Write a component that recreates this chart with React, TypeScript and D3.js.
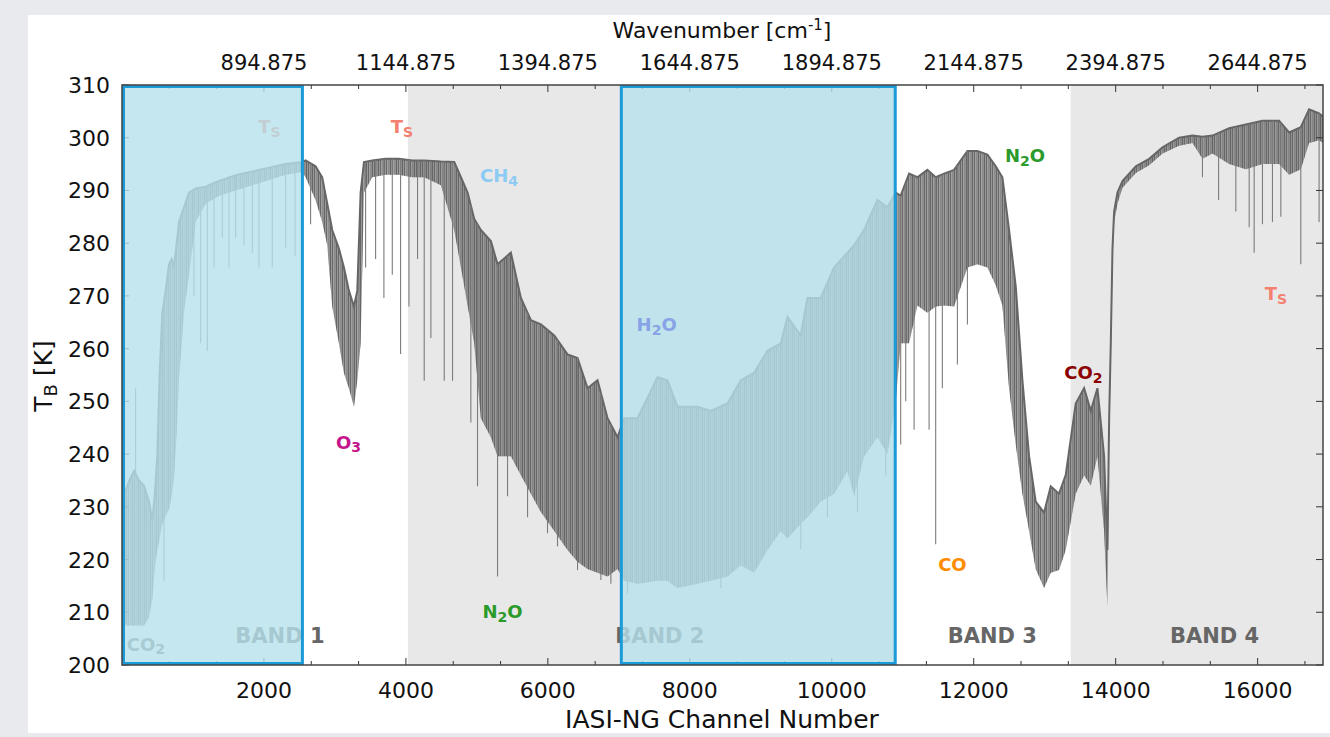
import React from "react";
import * as d3 from "d3";

// ---------- data ----------
const channels = [0, 52, 120, 170, 240, 310, 380, 427, 460, 497, 530, 568, 615, 662, 700, 732, 770, 803, 873, 944, 1038, 1178, 1366, 1601, 1836, 2070, 2305, 2540, 2587, 2727, 2821, 2892, 2962, 3056, 3127, 3197, 3268, 3315, 3362, 3409, 3526, 3714, 3902, 4090, 4258, 4493, 4681, 4775, 4869, 4963, 5056, 5197, 5291, 5479, 5620, 5761, 5902, 6090, 6277, 6418, 6559, 6700, 6841, 6982, 7075, 7263, 7545, 7685, 7826, 8108, 8296, 8530, 8718, 8906, 9094, 9282, 9376, 9563, 9657, 9845, 10033, 10221, 10315, 10455, 10643, 10784, 10901, 10971, 11089, 11206, 11347, 11464, 11582, 11723, 11911, 12052, 12193, 12310, 12404, 12498, 12592, 12686, 12780, 12873, 12991, 13085, 13202, 13296, 13437, 13555, 13649, 13743, 13837, 13884, 13908, 13931, 13955, 13978, 14025, 14096, 14284, 14472, 14660, 14894, 15082, 15223, 15364, 15599, 15834, 16068, 16303, 16444, 16608, 16725, 16866, 16921];

const tbUpper = [232, 233.2, 235.5, 236.8, 235, 234, 231, 227.5, 232, 239.6, 255, 266.8, 271, 276, 277, 275.4, 280, 284, 286.8, 289.6, 290.4, 290.7, 291.8, 292.9, 293.6, 294.3, 295, 295.4, 295.7, 294.6, 292.5, 287.5, 282.5, 279, 275.4, 271, 268, 271, 289.6, 295.4, 295.7, 296, 296, 295.7, 295.7, 295.5, 295.4, 292.5, 289.6, 284.6, 282.5, 280.4, 276, 278.2, 269.6, 265.4, 264.6, 262.5, 258.9, 258.2, 252.5, 254, 246.8, 243.2, 246.8, 246.8, 254.6, 254, 249, 249, 248.2, 249.6, 254, 255.4, 259.6, 261, 266, 262.5, 269.6, 269.6, 275.4, 278.2, 279.6, 282.5, 288.2, 286.8, 289.6, 289, 293.2, 292.5, 293.9, 292.5, 293.2, 293.9, 297.5, 297.5, 296.8, 294.6, 292.5, 282.5, 271.8, 254, 239.6, 231, 228.9, 233.9, 232.5, 236, 249.6, 252.5, 248.2, 252.5, 239.6, 221.8, 246.8, 261, 279, 286, 289.6, 291.8, 294.6, 296, 298.2, 300, 300.4, 300.2, 300.4, 301.8, 302.5, 303.2, 303.2, 301, 302, 305.4, 304.6, 304];

const tbLower = [210, 207.5, 207.5, 207.5, 207.5, 207.5, 209, 212.5, 218, 221.8, 224, 226.8, 228.2, 229.6, 232, 235.4, 244, 254, 266.8, 274, 284, 287.5, 289, 290, 291, 292, 293, 293.5, 292.5, 288.2, 284, 279.6, 268, 261, 255.4, 252.5, 249, 254, 261, 289.6, 292.5, 293, 293, 292.5, 292.5, 291, 282.5, 275.4, 268.2, 261, 246.8, 243.2, 239.6, 239.6, 236, 232.5, 229, 225.4, 221.8, 219.6, 218.2, 217.5, 216.8, 218.2, 216, 215.4, 216, 216, 214.6, 215.4, 216, 216.8, 218.9, 217.5, 221.8, 225.4, 224, 226.8, 228, 231, 232.5, 236.8, 232, 239.6, 243.2, 240, 250, 261, 261, 268.2, 266.8, 268, 268.2, 268, 275.4, 276, 275.4, 272, 268.2, 252.5, 241.8, 232.5, 225.4, 218.2, 214.6, 217.5, 218, 221.8, 232.5, 236, 234, 239.6, 225.4, 211, 243, 258, 276, 284, 287.5, 290.5, 293.3, 294.8, 297, 298.5, 299, 296, 297, 295, 294, 295, 295, 293, 294, 299, 299.5, 299];

const lineChannels = [192, 592, 1014, 1108, 1202, 1296, 1413, 1507, 1601, 1718, 1836, 1930, 2117, 2305, 2437, 2657, 3432, 3573, 3690, 3808, 3925, 4043, 4164, 4258, 4352, 4540, 4657, 4915, 5009, 5291, 5432, 5714, 5995, 6136, 6418, 6747, 6888, 7122, 8437, 8859, 9563, 9939, 10362, 10760, 10971, 11042, 11160, 11371, 11464, 11558, 11770, 11911, 15223, 15450, 15693, 15881, 15951, 16068, 16209, 16327, 16608, 16866];
const lineMinTb = [252.5, 216, 270, 261, 259.6, 275.4, 281, 275.4, 281, 279.6, 278.2, 275.4, 275.4, 279, 277.5, 283.6, 275.4, 277, 269.6, 274, 259, 268, 277, 253.9, 262, 253.9, 253.9, 246, 233.9, 216.8, 232, 228, 225, 222.5, 218, 216.1, 215.4, 213.5, 214.6, 218, 222, 228, 228.9, 236, 241.8, 250, 244.6, 244.6, 222.9, 252.5, 257, 264.6, 292.5, 288.2, 286, 283, 278.2, 283.6, 284, 285, 276, 284];

const xTickValues = [2000, 4000, 6000, 8000, 10000, 12000, 14000, 16000];
const yTickValues = [200, 210, 220, 230, 240, 250, 260, 270, 280, 290, 300, 310];
const shadedBands = [[4028, 10915], [13366, 16921]];
const highlightBoxes = [[0, 2563], [7014, 10915]];
const bandNames = ["BAND 1", "BAND 2", "BAND 3", "BAND 4"];
const bandNameChannels = [2225, 7577, 12262, 15394];

type Part = [string, boolean];
const annotations: { parts: Part[]; ch: number; tb: number; color: string; top?: boolean }[] = [
  { parts: [["T", false], ["S", true]], ch: 2078, tb: 300.9, color: "#f4806f" },
  { parts: [["T", false], ["S", true]], ch: 3945, tb: 300.9, color: "#f4806f" },
  { parts: [["CH", false], ["4", true]], ch: 5311, tb: 291.6, color: "#8ccbf3" },
  { parts: [["O", false], ["3", true]], ch: 3191, tb: 241, color: "#c4158a" },
  { parts: [["N", false], ["2", true], ["O", false]], ch: 5361, tb: 208.9, color: "#2a9a2a" },
  { parts: [["H", false], ["2", true], ["O", false]], ch: 7533, tb: 263.3, color: "#87a3e6", top: true },
  { parts: [["CO", false]], ch: 11700, tb: 217.8, color: "#ff8c00" },
  { parts: [["N", false], ["2", true], ["O", false]], ch: 12722, tb: 295.4, color: "#2a9a2a" },
  { parts: [["CO", false], ["2", true]], ch: 13546, tb: 254.2, color: "#8b0000" },
  { parts: [["T", false], ["S", true]], ch: 16258, tb: 269.2, color: "#f4806f" },
  { parts: [["CO", false], ["2", true]], ch: 338, tb: 202.7, color: "#707070" },
];

// ---------- layout ----------
const W = 1330;
const H = 737;
const FONT = "'DejaVu Sans', Verdana, sans-serif";
const L = 122, R = 1323, T = 85, B = 665;

const x = d3.scaleLinear().domain([0, 16921]).range([L, R]);
const y = d3.scaleLinear().domain([200, 310]).range([B, T]);
const upperAt = d3.scaleLinear().domain(channels).range(tbUpper).clamp(true);

const wn = (c: number) => d3.format(".3f")(645 + (c - 1) * 0.125);

function Label({ parts, cx, by, color, size }: { parts: Part[]; cx: number; by: number; color: string; size: number }) {
  let prevSub = false;
  return (
    <text x={cx} y={by} textAnchor="middle" fill={color} fontFamily={FONT} fontWeight="bold" fontSize={size}>
      {parts.map(([s, sub], i) => {
        let dy = 0;
        if (sub && !prevSub) dy = size * 0.2;
        if (!sub && prevSub) dy = -size * 0.2;
        prevSub = sub;
        return (
          <tspan key={i} dy={dy} fontSize={sub ? size * 0.78 : size}>
            {s}
          </tspan>
        );
      })}
    </text>
  );
}

export default function App() {
  const pts = channels.map((c, i) => ({ c, u: tbUpper[i], l: tbLower[i] }));
  const area = d3
    .area<{ c: number; u: number; l: number }>()
    .x((d) => x(d.c))
    .y0((d) => y(d.l))
    .y1((d) => y(d.u));
  const upperLine = d3
    .line<{ c: number; u: number; l: number }>()
    .x((d) => x(d.c))
    .y((d) => y(d.u));

  const minor = d3.range(0, 16921, 2000 / 3).filter((v) => Math.abs(v / 2000 - Math.round(v / 2000)) > 0.01);

  const labelsUnder = annotations.filter((a) => !a.top);
  const labelsOver = annotations.filter((a) => a.top);

  return (
    <svg width={W} height={H} style={{ position: "absolute", left: 0, top: 0 }} fontFamily={FONT}>
      <defs>
        <clipPath id="plotClip">
          <rect x={L} y={T} width={R - L} height={B - T} />
        </clipPath>
        <pattern id="comb" patternUnits="userSpaceOnUse" x={0} y={0} width={6} height={20}>
          <rect x={0} y={0} width={1.4} height={20} fill="#666" />
          <rect x={1.9} y={0} width={1.2} height={20} fill="#686868" />
          <rect x={3.7} y={0} width={0.9} height={20} fill="#666" />
          <rect x={5.1} y={0} width={0.6} height={20} fill="#6c6c6c" />
        </pattern>
      </defs>
      <rect x={0} y={0} width={W} height={H} fill="#e9eaed" />
      <rect x={28} y={15} width={W - 28} height={733 - 15} fill="#ffffff" />

      {/* shaded band backgrounds */}
      {shadedBands.map(([a, b], i) => (
        <rect key={i} x={x(a)} y={T} width={x(b) - x(a)} height={B - T} fill="#e8e8e8" />
      ))}

      {/* spectrum */}
      <g clipPath="url(#plotClip)">
        <path d={area(pts) || ""} fill="#6a6a6a" fillOpacity={0.4} />
        <path d={area(pts) || ""} fill="url(#comb)" />
        <path d={upperLine(pts) || ""} fill="none" stroke="#666" strokeWidth={2} />
        {lineChannels.map((c, i) => (
          <line
            key={i}
            x1={x(c)}
            x2={x(c)}
            y1={y(upperAt(c))}
            y2={y(lineMinTb[i])}
            stroke="#7c7c7c"
            strokeWidth={1.1}
          />
        ))}
      </g>

      {/* ticks */}
      <g stroke="#333" strokeWidth={1}>
        {xTickValues.map((v) => (
          <g key={v}>
            <line x1={x(v)} x2={x(v)} y1={B} y2={B - 7} />
            <line x1={x(v)} x2={x(v)} y1={T} y2={T + 7} />
          </g>
        ))}
        {minor.map((v) => (
          <g key={v}>
            <line x1={x(v)} x2={x(v)} y1={B} y2={B - 4} />
            <line x1={x(v)} x2={x(v)} y1={T} y2={T + 4} />
          </g>
        ))}
        {yTickValues.map((v) => (
          <g key={v}>
            <line x1={L} x2={L + 7} y1={y(v)} y2={y(v)} />
            <line x1={R} x2={R - 7} y1={y(v)} y2={y(v)} />
          </g>
        ))}
      </g>

      {/* band names */}
      {bandNames.map((n, i) => (
        <text key={n} x={x(bandNameChannels[i])} y={y(204.2)} textAnchor="middle" fill="#666" fontWeight="bold" fontSize={21}>
          {n}
        </text>
      ))}

      {labelsUnder.map((a, i) => (
        <Label key={i} parts={a.parts} cx={x(a.ch)} by={y(a.tb)} color={a.color} size={18} />
      ))}

      {/* highlight boxes */}
      {highlightBoxes.map(([a, b], i) => (
        <rect
          key={i}
          x={x(a) + 1.5}
          y={T + 1.5}
          width={x(b) - x(a) - 3}
          height={B - T - 3}
          fill="rgb(183,225,236)"
          fillOpacity={0.8}
          stroke="#1a9bd7"
          strokeWidth={3}
        />
      ))}

      {labelsOver.map((a, i) => (
        <Label key={i} parts={a.parts} cx={x(a.ch)} by={y(a.tb)} color={a.color} size={18} />
      ))}

      {/* frame */}
      <rect x={L} y={T} width={R - L} height={B - T} fill="none" stroke="#444" strokeWidth={1.5} />

      {/* tick labels */}
      {xTickValues.map((v) => (
        <text key={v} x={x(v)} y={698} textAnchor="middle" fontSize={22} fill="#111">
          {v}
        </text>
      ))}
      {xTickValues.map((v) => (
        <text key={v} x={x(v)} y={70} textAnchor="middle" fontSize={21} fill="#111">
          {wn(v)}
        </text>
      ))}
      {yTickValues.map((v) => (
        <text key={v} x={110} y={y(v) + 8} textAnchor="end" fontSize={22} fill="#111">
          {v}
        </text>
      ))}

      {/* titles */}
      <text x={722} y={38} textAnchor="middle" fontSize={22} fill="#111">
        Wavenumber [cm
        <tspan dy={-8} fontSize={15}>
          -1
        </tspan>
        <tspan dy={8}>]</tspan>
      </text>
      <text x={722} y={728} textAnchor="middle" fontSize={25} fill="#111">
        IASI-NG Channel Number
      </text>
      <text transform="translate(52,376) rotate(-90)" textAnchor="middle" fontSize={25} fill="#111">
        T
        <tspan dy={5} fontSize={18}>
          B
        </tspan>
        <tspan dy={-5}> [K]</tspan>
      </text>
    </svg>
  );
}
